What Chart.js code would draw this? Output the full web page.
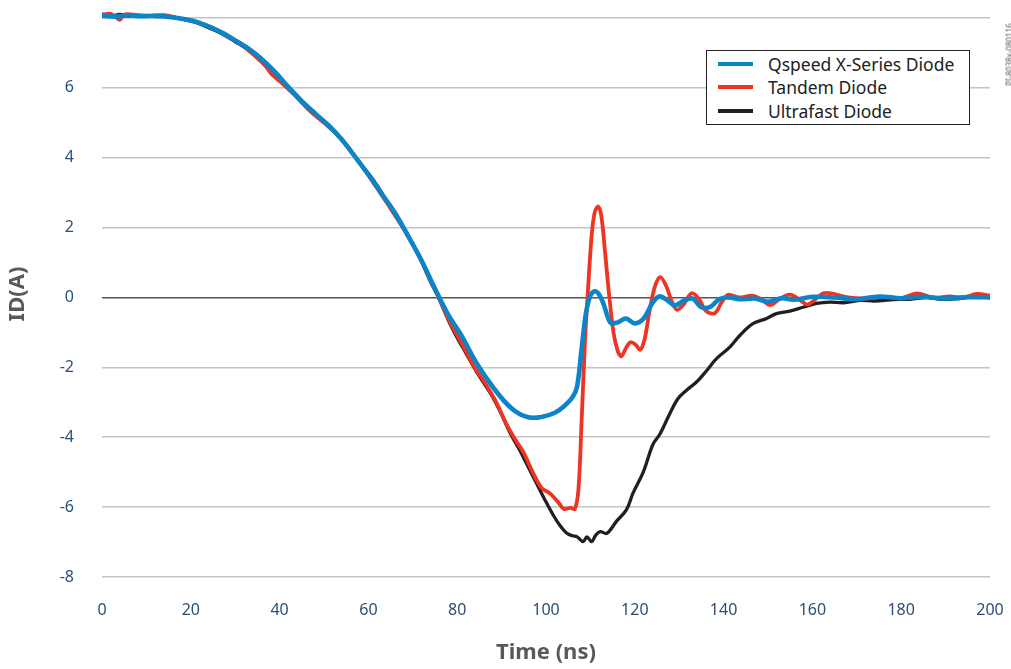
<!DOCTYPE html>
<html>
<head>
<meta charset="utf-8">
<script src="https://cdn.jsdelivr.net/npm/chart.js@4.4.1/dist/chart.umd.min.js"></script>
<style>
  body { margin: 0; background: #fff; font-family: "Noto Sans", sans-serif; }
  #wrap { position: relative; width: 1011px; height: 669px; }
  #legend {
    position: absolute; left: 706px; top: 50px; width: 262px; height: 73px;
    border: 1.5px solid #222; background: #fff; box-sizing: content-box;
  }
  .row { position: absolute; left: 0; height: 22px; display: flex; align-items: center; }
  .swatch { width: 35px; height: 4px; margin-left: 11px; margin-right: 15px; }
  .label { font-size: 17.5px; color: #222; }
  #tag {
    position: absolute; left: 976px; top: 49px; width: 66px; font-size: 8px; color: #555;
    transform: rotate(-90deg); transform-origin: center; text-align: center;
  }
</style>
</head>
<body>
<div id="wrap">
  <canvas id="chart" width="1011" height="669"></canvas>
  <div id="legend"></div>
  <div id="tag">PI-8038x-080116</div>
</div>
<script>
const seriesNames = ["Qspeed X-Series Diode", "Tandem Diode", "Ultrafast Diode"];
const seriesColors = ["#0b84c8", "#ee3524", "#231f20"];

const xTicks = [0, 20, 40, 60, 80, 100, 120, 140, 160, 180, 200];
const yTicks = [-8, -6, -4, -2, 0, 2, 4, 6, 8];

// Qspeed X-Series (blue)
const qspeedT = [0, 3, 6, 9, 12, 15, 18, 21, 24, 27, 30, 33, 36, 39, 42, 45, 48, 51, 54, 57, 60, 63, 66, 69, 72, 75,
  78, 81, 84, 87, 90, 93, 96, 99, 102, 104, 106, 107, 108, 109, 110, 111, 112, 113, 114.5, 116, 118, 120, 122, 124,
  125.5, 127, 129, 131, 133, 135, 137, 139, 141, 144, 147, 150, 153, 156, 160, 165, 170, 175, 180, 185, 190, 195, 200];
const qspeedI = [8.06, 8.04, 8.07, 8.05, 8.06, 8.03, 7.98, 7.9, 7.76, 7.58, 7.36, 7.12, 6.82, 6.45, 6.02, 5.62, 5.27, 4.93, 4.52, 4.03, 3.52, 2.97, 2.42, 1.75, 1.05, 0.25,
  -0.5, -1.1, -1.8, -2.38, -2.88, -3.25, -3.43, -3.42, -3.3, -3.12, -2.85, -2.55, -1.5, -0.45, 0.05, 0.18, 0.08, -0.2, -0.72, -0.72, -0.6, -0.74, -0.6, -0.15,
  0.03, -0.05, -0.22, -0.1, -0.03, -0.28, -0.27, -0.05, 0.0, -0.05, -0.03, -0.12, -0.02, -0.06, 0.02, 0.0, -0.05, 0.03, -0.02, 0.02, -0.03, 0.01, 0.0];

// Tandem (red)
const tandemT = [0, 2, 4, 5, 8, 11, 14, 17, 20, 23, 26, 29, 32, 35, 37, 38, 41, 44, 47, 50, 53, 56, 59, 62, 65, 68, 71, 74, 76,
  78, 80, 82, 84, 85.5, 87, 89, 91, 93, 95, 97, 99, 101, 103, 104, 105.5, 106.5, 107.3, 108, 108.8, 109.5, 110.3, 111, 111.8,
  112.5, 113.3, 114.2, 115.2, 116.2, 117, 118, 119, 120.2, 121.2, 122.2, 123.3, 124.5, 125.7, 127, 128.3, 129.5, 131, 132.8,
  134.5, 136, 138, 139.5, 141, 143.5, 146.5, 148.5, 150.5, 152.5, 155, 157.5, 159, 162.5, 165, 168, 172, 176, 180, 183.5, 187, 191, 194, 197, 200];
const tandemI = [8.08, 8.12, 7.95, 8.1, 8.08, 8.06, 8.08, 8.0, 7.92, 7.8, 7.65, 7.42, 7.18, 6.85, 6.6, 6.42, 6.08, 5.72, 5.32, 5.0, 4.66, 4.2, 3.68, 3.12, 2.55, 1.95, 1.28, 0.5, -0.05,
  -0.62, -1.08, -1.55, -2.02, -2.3, -2.6, -3.05, -3.6, -4.05, -4.45, -5.0, -5.45, -5.62, -5.9, -6.05, -6.02, -6.05, -5.5, -3.6, -1.2, 0.3, 1.8, 2.45, 2.6,
  2.3, 1.3, 0.1, -1.0, -1.55, -1.68, -1.45, -1.28, -1.35, -1.5, -1.2, -0.4, 0.3, 0.58, 0.35, -0.1, -0.35, -0.2, 0.12,
  -0.05, -0.38, -0.45, -0.15, 0.08, 0.0, 0.05, -0.05, -0.22, -0.05, 0.08, -0.1, -0.2, 0.12, 0.1, 0.0, -0.03, 0.02, -0.02, 0.12, 0.0, 0.03, 0.0, 0.1, 0.05];

// Ultrafast (black)
const ultraT = [0, 2, 4, 6, 9, 12, 15, 18, 21, 24, 27, 30, 33, 36, 39, 41, 43, 46, 49, 52, 55, 58, 60, 62, 65, 68, 71, 74, 76,
  78, 80, 82, 84, 86, 88, 90, 92, 94, 96, 98, 100, 101.5, 103, 104.7, 106, 107, 108.4, 109.2, 110.3, 111.2, 112.2, 113.7,
  115.9, 118.1, 119.6, 121.9, 124.1, 125.7, 127.9, 129.7, 131.6, 133.9, 136.2, 138.4, 141.4, 143.7, 146.6, 149.7, 151.9,
  154.9, 157.9, 160.9, 163.9, 167, 170.7, 174, 178.2, 182, 185.7, 189, 193.2, 196, 200];
const ultraI = [8.12, 8.05, 8.1, 8.05, 8.07, 8.04, 8.05, 7.97, 7.88, 7.72, 7.55, 7.32, 7.08, 6.75, 6.35, 6.1, 5.85, 5.45, 5.15, 4.8, 4.38, 3.85, 3.55, 3.2, 2.55, 1.95, 1.3, 0.45, -0.05,
  -0.65, -1.15, -1.6, -2.05, -2.45, -2.85, -3.35, -3.9, -4.35, -4.85, -5.35, -5.85, -6.2, -6.5, -6.75, -6.82, -6.85, -6.99, -6.85, -6.99, -6.8, -6.7, -6.75,
  -6.4, -6.08, -5.6, -5.0, -4.2, -3.9, -3.32, -2.9, -2.66, -2.42, -2.09, -1.75, -1.42, -1.08, -0.75, -0.6, -0.46,
  -0.39, -0.28, -0.17, -0.13, -0.15, -0.08, -0.1, -0.06, -0.05, 0.0, -0.05, -0.03, 0.02, 0.0];

const seriesT = [qspeedT, tandemT, ultraT];
const seriesI = [qspeedI, tandemI, ultraI];
const lineWidths = [4.6, 3.8, 3.3];

const tickColor = "#2b4f78";
const titleColor = "#595959";

// legend box
const legend = document.getElementById('legend');
seriesNames.forEach((name, i) => {
  legend.innerHTML += `<div class="row" style="top:${1.5 + i * 23.5}px">
      <div class="swatch" style="background:${seriesColors[i]}"></div>
      <span class="label">${name}</span></div>`;
});

// tick padding inflates the chart-area margins, so use invisible tick marks for the offset instead
new Chart(document.getElementById('chart').getContext('2d'), {
  type: 'line',
  data: {
    datasets: seriesNames.map((name, i) => ({
      label: name,
      data: seriesT[i].map((t, k) => ({ x: t, y: seriesI[i][k] })),
      borderColor: seriesColors[i],
      borderWidth: lineWidths[i],
      pointRadius: 0,
      tension: 0.35,
      fill: false,
      order: i
    }))
  },
  options: {
    responsive: false,
    animation: false,
    layout: { autoPadding: false, padding: { top: 11, right: 21, bottom: 0, left: 0 } },
    plugins: { legend: { display: false }, tooltip: { enabled: false } },
    scales: {
      x: {
        type: 'linear', min: 0, max: 200,
        afterBuildTicks: axis => { axis.ticks = xTicks.map(v => ({ value: v })); },
        afterFit: scale => { scale.height = 92; },
        grid: { display: false, drawTicks: true, tickLength: 24 },
        border: { display: false },
        ticks: { color: tickColor, font: { family: "Noto Sans", size: 16 }, padding: 0, maxRotation: 0 },
        title: { display: true, text: 'Time (ns)', color: titleColor, font: { family: "Noto Sans", size: 22, weight: 'bold' }, padding: { top: 0, bottom: 3 } }
      },
      y: {
        min: -8, max: 8.2,
        afterBuildTicks: axis => { axis.ticks = yTicks.map(v => ({ value: v })); },
        afterFit: scale => { scale.width = 102; },
        grid: {
          color: ctx => ctx.tick && ctx.tick.value === 0 ? '#555555' : '#c4c4c4',
          lineWidth: 1.5,
          drawTicks: true,
          tickLength: 28,
          tickColor: 'rgba(0,0,0,0)'
        },
        border: { display: false },
        ticks: { color: tickColor, font: { family: "Noto Sans", size: 16 }, padding: 0,
          callback: v => v === 8 ? '' : v },
        title: { display: true, text: 'ID(A)', color: titleColor, font: { family: "Noto Sans", size: 22, weight: 'bold' }, padding: { top: 5, bottom: 0 } }
      }
    }
  }
});
</script>
</body>
</html>
